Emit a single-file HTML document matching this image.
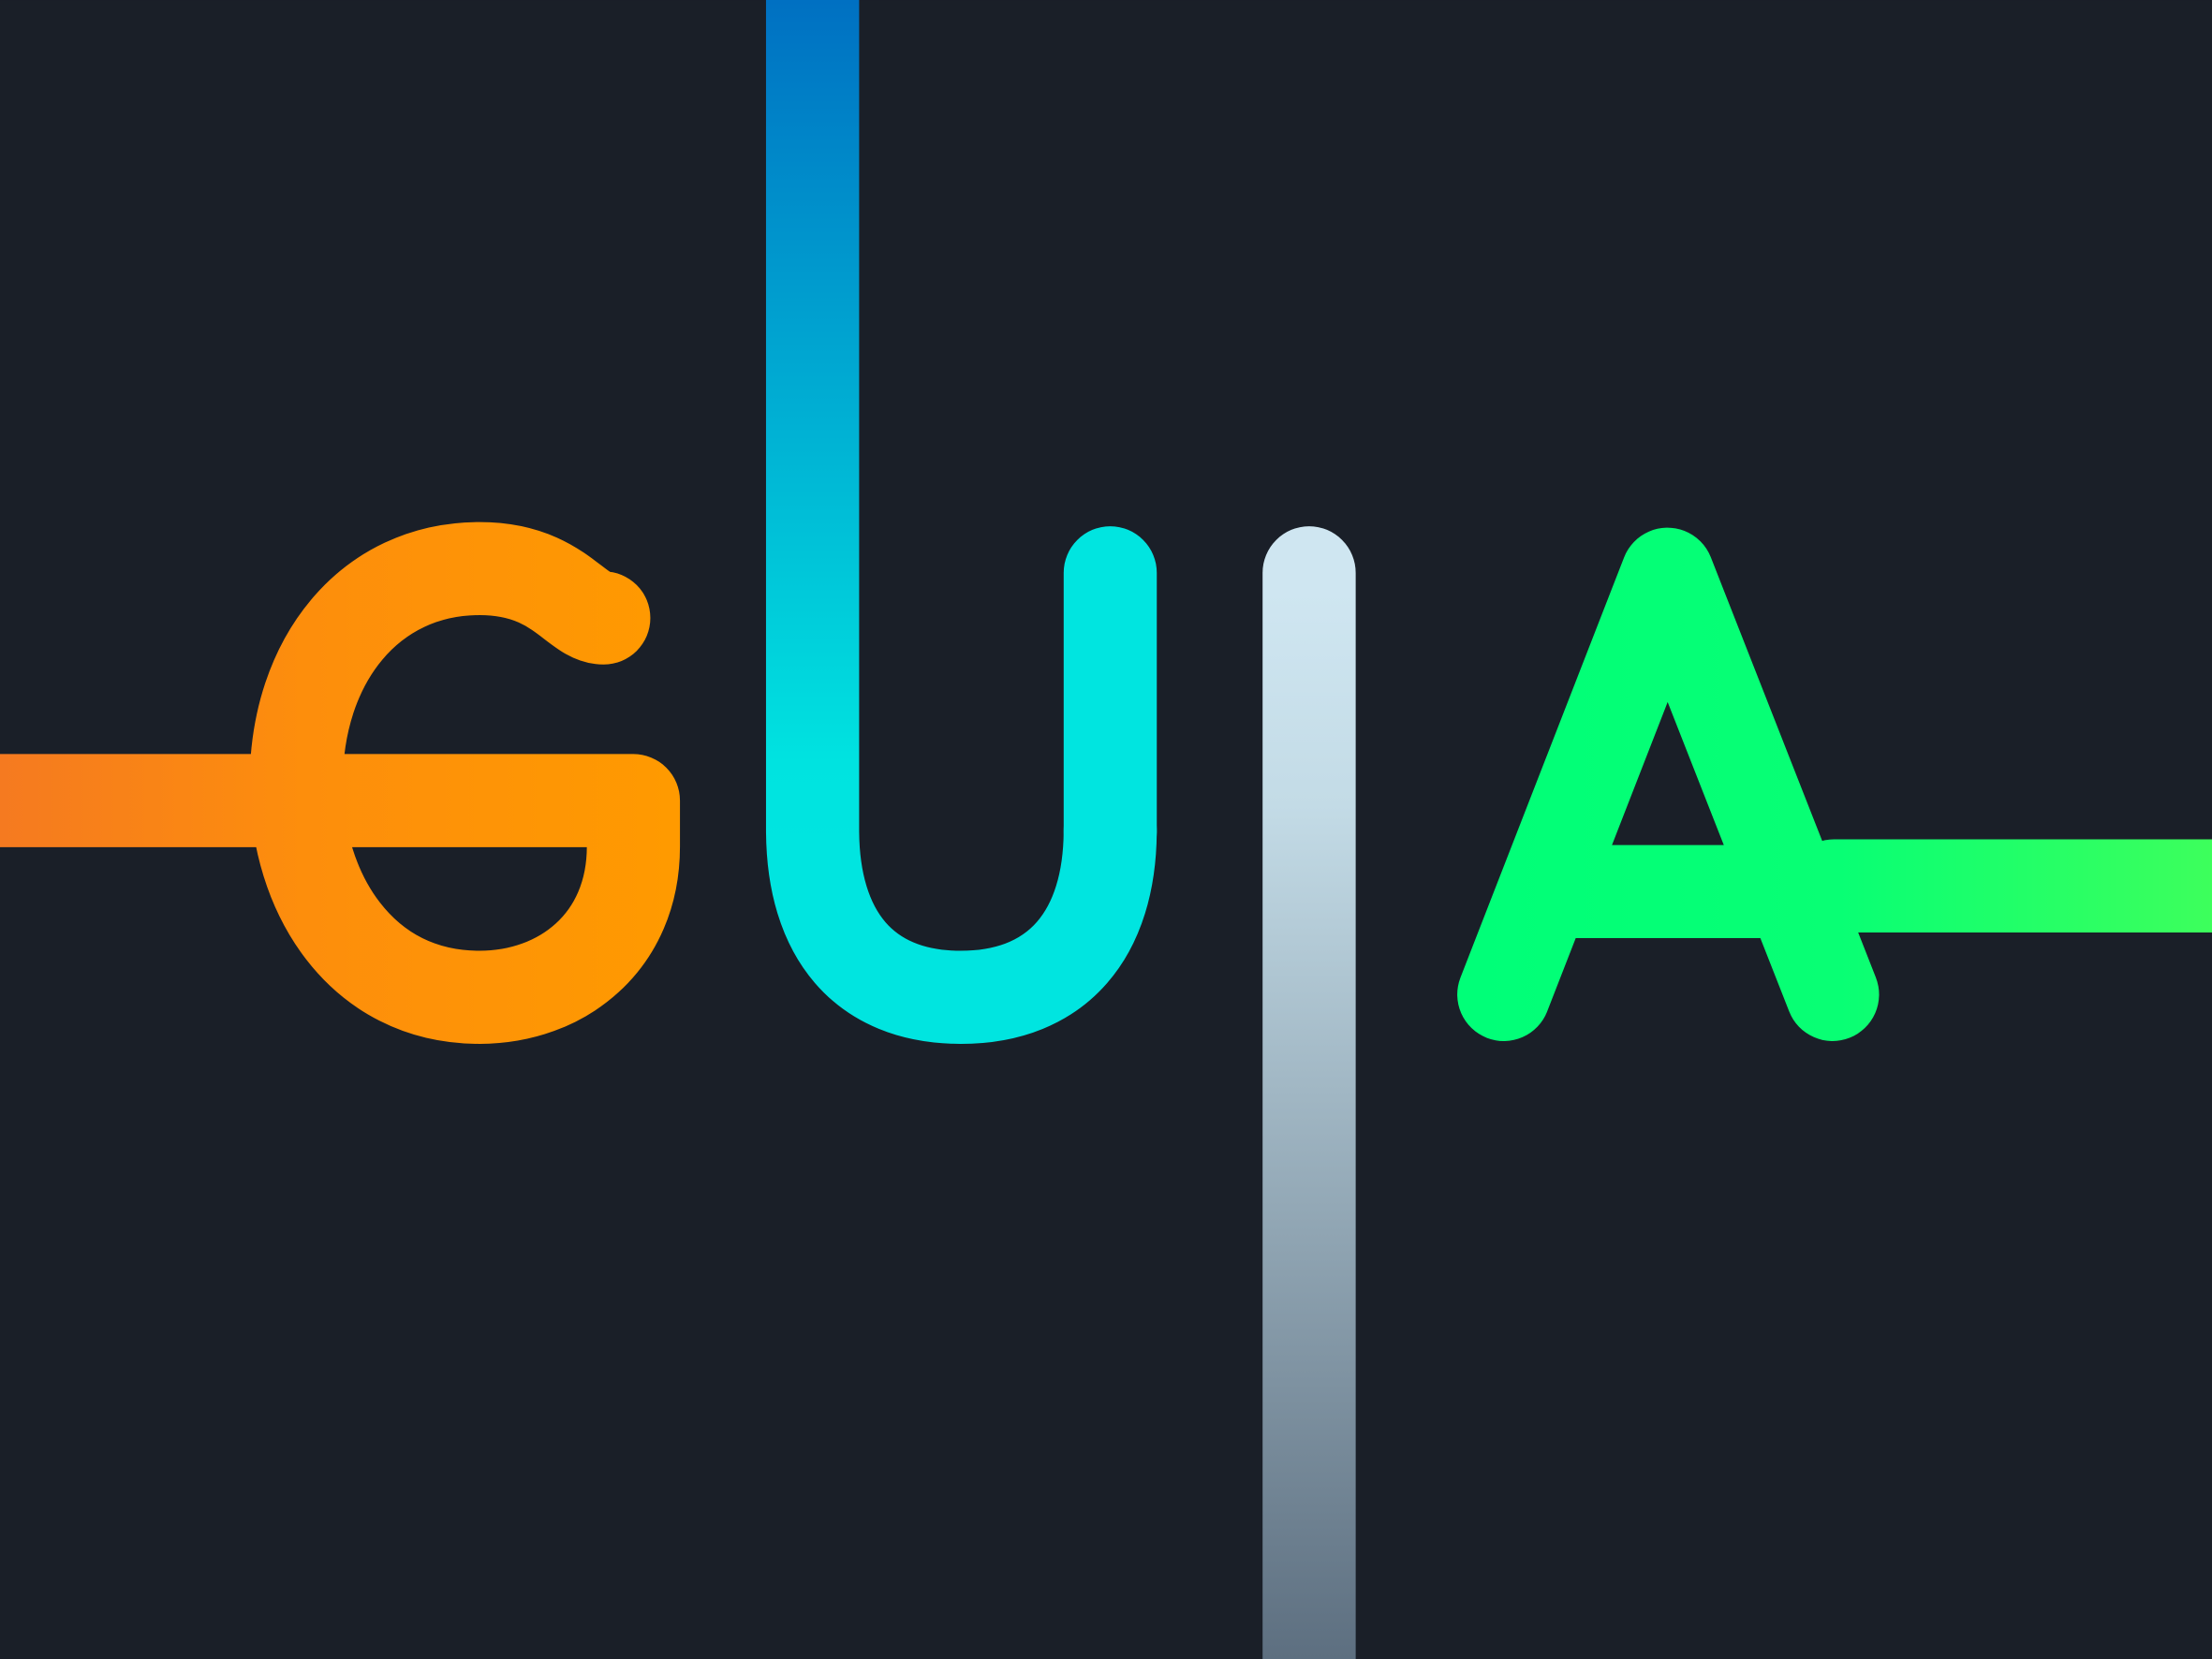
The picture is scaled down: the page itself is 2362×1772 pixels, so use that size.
<!DOCTYPE html>
<html lang="en">
<head>
<meta charset="utf-8">
<title>GUIA</title>
<style>
  html,body{margin:0;padding:0;background:#1a1f28;}
  body{width:2362px;height:1772px;overflow:hidden;}
  svg{display:block;}
</style>
</head>
<body>
<svg width="2362" height="1772" viewBox="0 0 1568 1176" xmlns="http://www.w3.org/2000/svg" role="img" aria-label="GUIA">
  <title>GUIA</title>
  <defs>
    <linearGradient id="gOrange" gradientUnits="userSpaceOnUse" x1="0" y1="0" x2="480" y2="0">
      <stop offset="0" stop-color="#f57a20"/>
      <stop offset="0.45" stop-color="#fd8e0c"/>
      <stop offset="1" stop-color="#ff9a00"/>
    </linearGradient>
    <linearGradient id="gCyan" gradientUnits="userSpaceOnUse" x1="0" y1="0" x2="0" y2="600">
      <stop offset="0" stop-color="#0070c2"/>
      <stop offset="0.45" stop-color="#00aad2"/>
      <stop offset="0.9" stop-color="#00e3e0"/>
      <stop offset="1" stop-color="#00e5e0"/>
    </linearGradient>
    <linearGradient id="gGrey" gradientUnits="userSpaceOnUse" x1="0" y1="420" x2="0" y2="1176">
      <stop offset="0" stop-color="#cfe6f1"/>
      <stop offset="0.2" stop-color="#c3dbe6"/>
      <stop offset="1" stop-color="#5d6f80"/>
    </linearGradient>
    <linearGradient id="gGreen" gradientUnits="userSpaceOnUse" x1="1040" y1="0" x2="1568" y2="0">
      <stop offset="0" stop-color="#00ff78"/>
      <stop offset="0.5" stop-color="#08ff74"/>
      <stop offset="1" stop-color="#3dff5c"/>
    </linearGradient>
  </defs>
  <rect x="0" y="0" width="1568" height="1176" fill="#1a1f28"/>

  <g fill="none" stroke-width="66" stroke-linecap="round" stroke-linejoin="round">
    <path stroke="url(#gOrange)"
      d="M-40,567.5 H449 V600 C449,668 398,707 340,707 C255,707 210,632 210,555 C210,468 262,403 340,403 C396,403 408,438 428,438"/>
    <path stroke="url(#gCyan)"
      d="M576,-40 V588 C576,662 612,707 681,707 C750,707 787,662 787,588"/>
    <path stroke="#00e5e0"
      d="M787,590 V406"/>
    <path stroke="url(#gGrey)"
      d="M928,406 V1230"/>
    <path stroke="url(#gGreen)"
      d="M1066,705 L1182,407 L1299,705"/>
    <path stroke="url(#gGreen)" stroke-linecap="butt"
      d="M1116,632 H1290 L1300,628 H1600"/>
  </g>
</svg>
</body>
</html>
